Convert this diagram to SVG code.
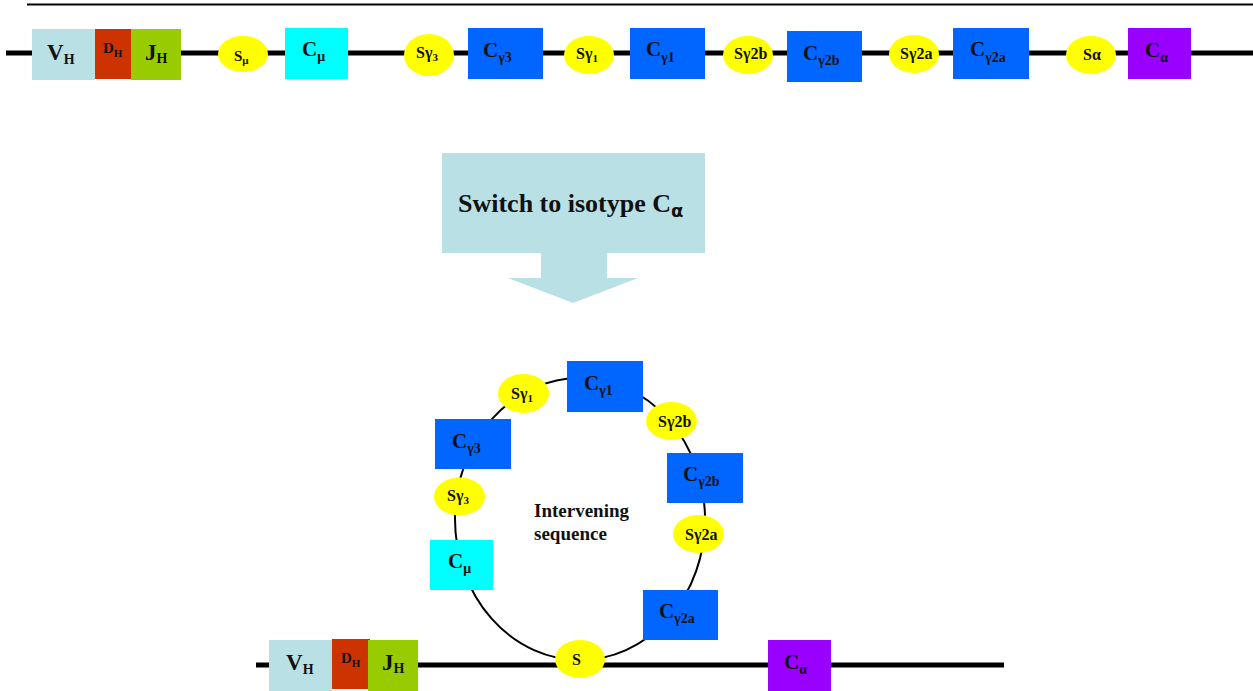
<svg xmlns="http://www.w3.org/2000/svg" width="1253" height="691" viewBox="0 0 1253 691">
<style>
text{font-family:"Liberation Serif","Times New Roman",serif;font-weight:bold;fill:#111}
.vh{fill:#B9E0E5}.dh{fill:#CC3300}.jh{fill:#99CC00}.cm{fill:#00FFFF}.cg{fill:#0066FF}.ca{fill:#9900FF}.sw{fill:#FFFF00}
.big{font-size:23px}.c{font-size:21px}.s{font-size:16px}.sub{font-size:14px}.ssub{font-size:11px}
.dna{stroke:#000;stroke-width:5;fill:none}
</style>
<g id="connectors">
<line x1="27" y1="4.5" x2="1253" y2="4.5" stroke="#000" stroke-width="2"/>
<line class="dna" x1="6" y1="53" x2="1253" y2="53"/>
<line class="dna" x1="256" y1="665" x2="1004" y2="665"/>
<ellipse cx="580" cy="519" rx="125" ry="141" fill="none" stroke="#000" stroke-width="2"/>
</g>
<g id="top-VH"><rect class="vh" x="32" y="29" width="63" height="51"/><text x="47" y="60" class="big">V<tspan class="sub" dy="4">H</tspan></text></g>
<g id="top-DH"><rect class="dh" x="95" y="29" width="38" height="50"/><text x="103" y="53" font-size="15">D<tspan class="ssub" dy="4">H</tspan></text></g>
<g id="top-JH"><rect class="jh" x="131" y="29" width="50" height="51"/><text x="145" y="60" class="big">J<tspan class="sub" dy="3">H</tspan></text></g>
<g id="top-Smu"><ellipse class="sw" cx="243" cy="54" rx="25" ry="18"/><text x="234" y="61" font-size="15">S<tspan class="ssub" dy="3">μ</tspan></text></g>
<g id="top-Cmu"><rect class="cm" x="285" y="28" width="63" height="51"/><text x="302" y="56" class="c">C<tspan class="sub" dy="5">μ</tspan></text></g>
<g id="top-Sg3"><ellipse class="sw" cx="429" cy="55" rx="25" ry="21"/><text x="416" y="58" class="s">Sγ<tspan class="ssub" dy="3">3</tspan></text></g>
<g id="top-Cg3"><rect class="cg" x="468" y="28" width="75" height="51"/><text x="483" y="57" class="c">C<tspan class="sub" dy="5">γ3</tspan></text></g>
<g id="top-Sg1"><ellipse class="sw" cx="589" cy="55" rx="25" ry="19"/><text x="576" y="59" class="s">Sγ<tspan class="ssub" dy="3">1</tspan></text></g>
<g id="top-Cg1"><rect class="cg" x="630" y="28" width="75" height="51"/><text x="646" y="56" class="c">C<tspan class="sub" dy="6">γ1</tspan></text></g>
<g id="top-Sg2b"><ellipse class="sw" cx="748" cy="55" rx="25" ry="19"/><text x="734" y="59" class="s">Sγ2b</text></g>
<g id="top-Cg2b"><rect class="cg" x="787" y="31" width="75" height="51"/><text x="803" y="60" class="c">C<tspan class="sub" dy="5">γ2b</tspan></text></g>
<g id="top-Sg2a"><ellipse class="sw" cx="914" cy="54" rx="25" ry="19"/><text x="900" y="59" class="s">Sγ2a</text></g>
<g id="top-Cg2a"><rect class="cg" x="953" y="28" width="76" height="51"/><text x="970" y="56" class="c">C<tspan class="sub" dy="6">γ2a</tspan></text></g>
<g id="top-Sa"><ellipse class="sw" cx="1091" cy="55" rx="25" ry="19"/><text x="1083" y="60" class="s">Sα</text></g>
<g id="top-Ca"><rect class="ca" x="1128" y="28" width="63" height="51"/><text x="1145" y="57" class="c">C<tspan class="sub" dy="5">α</tspan></text></g>
<g id="switch-arrow">
<path d="M442 153H705V253H607V278H638L573 303L508 278H541V253H442Z" fill="#B9E0E5"/>
<text x="458" y="212" font-size="26">Switch to isotype C<tspan font-size="18" dy="5" font-family="'DejaVu Sans',sans-serif">α</tspan></text>
</g>
<g id="loop-label"><text x="534" y="517" font-size="19">Intervening</text><text x="534" y="540" font-size="19">sequence</text></g>
<g id="loop-Sg1"><ellipse class="sw" cx="523.5" cy="393.5" rx="25.5" ry="19.5"/><text x="511" y="399" class="s">Sγ<tspan class="ssub" dy="3">1</tspan></text></g>
<g id="loop-Cg1"><rect class="cg" x="567" y="361" width="76" height="51"/><text x="584" y="390" class="c">C<tspan class="sub" dy="5">γ1</tspan></text></g>
<g id="loop-Sg2b"><ellipse class="sw" cx="671.5" cy="421" rx="25.5" ry="19"/><text x="658" y="427" class="s">Sγ2b</text></g>
<g id="loop-Cg3"><rect class="cg" x="435" y="419" width="76" height="50"/><text x="452" y="448" class="c">C<tspan class="sub" dy="5">γ3</tspan></text></g>
<g id="loop-Cg2b"><rect class="cg" x="667" y="453" width="76" height="50"/><text x="683" y="481" class="c">C<tspan class="sub" dy="5">γ2b</tspan></text></g>
<g id="loop-Sg3"><ellipse class="sw" cx="459.5" cy="496.5" rx="25.5" ry="19"/><text x="447" y="501" class="s">Sγ<tspan class="ssub" dy="3">3</tspan></text></g>
<g id="loop-Sg2a"><ellipse class="sw" cx="698.5" cy="534" rx="25.5" ry="19"/><text x="685" y="540" class="s">Sγ2a</text></g>
<g id="loop-Cmu"><rect class="cm" x="430" y="540" width="63" height="50"/><text x="448" y="568" class="c">C<tspan class="sub" dy="5">μ</tspan></text></g>
<g id="loop-Cg2a"><rect class="cg" x="643" y="590" width="75" height="50"/><text x="659" y="618" class="c">C<tspan class="sub" dy="5">γ2a</tspan></text></g>
<g id="bot-S"><ellipse class="sw" cx="580" cy="659" rx="25" ry="19"/><text x="572" y="665" class="s">S</text></g>
<g id="bot-VH"><rect class="vh" x="269" y="640" width="63" height="51"/><text x="286" y="670" class="big">V<tspan class="sub" dy="4">H</tspan></text></g>
<g id="bot-DH"><rect class="dh" x="332" y="639" width="38" height="50"/><text x="341" y="663" font-size="15">D<tspan class="ssub" dy="4">H</tspan></text></g>
<g id="bot-JH"><rect class="jh" x="368" y="640" width="50" height="51"/><text x="382" y="670" class="big">J<tspan class="sub" dy="3">H</tspan></text></g>
<g id="bot-Ca"><rect class="ca" x="768" y="640" width="63" height="51"/><text x="784" y="669" class="c">C<tspan class="sub" dy="5">α</tspan></text></g>
</svg>
